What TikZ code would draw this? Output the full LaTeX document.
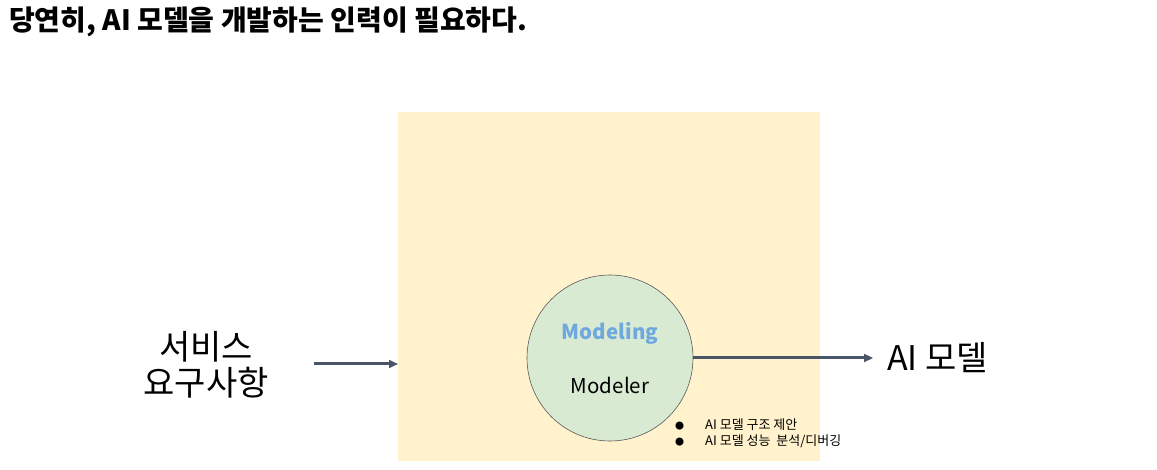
\documentclass[tikz,border=0pt]{standalone}
\usepackage{fontspec}
\setmainfont{Noto Sans CJK KR}
\usetikzlibrary{arrows.meta}
\definecolor{bgyellow}{HTML}{FFF2CC}
\definecolor{circgreen}{HTML}{D9EAD3}
\definecolor{arrowc}{HTML}{4A5568}
\definecolor{modblue}{HTML}{6FA8DC}
\tikzset{
  flow/.style={draw=arrowc, line width=3pt, -{Stealth[length=9pt,width=8pt,inset=0pt]}},
  lbl/.style={inner sep=0pt, align=center},
}
\begin{document}
\begin{tikzpicture}[x=1pt,y=-1pt]
\useasboundingbox (0,0) rectangle (1157,470);
\node[lbl, anchor=west, font=\fontsize{28}{30}\selectfont\bfseries] (title) at (9,22) {당연히, AI 모델을 개발하는 인력이 필요하다.};
\fill[bgyellow] (398,112) rectangle (820,461);
\coordinate (boxin) at (398,364);
\node[circle, draw=black!65, line width=0.6pt, fill=circgreen, minimum size=166pt, inner sep=0pt] (modeler) at (610,358) {};
\node[lbl, font=\fontsize{20.5}{22}\selectfont\bfseries, text=modblue] (modeling) at (610,333) {Modeling};
\node[lbl, font=\fontsize{20.5}{22}\selectfont] (modelertxt) at (610,385) {Modeler};
\node[lbl, font=\fontsize{34}{36}\selectfont, align=center] (req) at (206,365) {서비스\\요구사항};
\coordinate (reqout) at (314,364);
\node[lbl, anchor=west, font=\fontsize{34}{36}\selectfont] (aimodel) at (887,358) {AI 모델};
\draw[flow] (reqout) -- (boxin);
\draw[flow] (modeler.east) -- ([xshift=-14pt]aimodel.west);
\node[lbl, anchor=west, font=\fontsize{13}{16}\selectfont, align=left] (bullets) at (675,433)
  {\makebox[30pt][l]{\fontsize{9}{16}\selectfont●}AI 모델 구조 제안\\\makebox[30pt][l]{\fontsize{9}{16}\selectfont●}AI 모델 성능 \ 분석/디버깅};
\end{tikzpicture}
\end{document}
